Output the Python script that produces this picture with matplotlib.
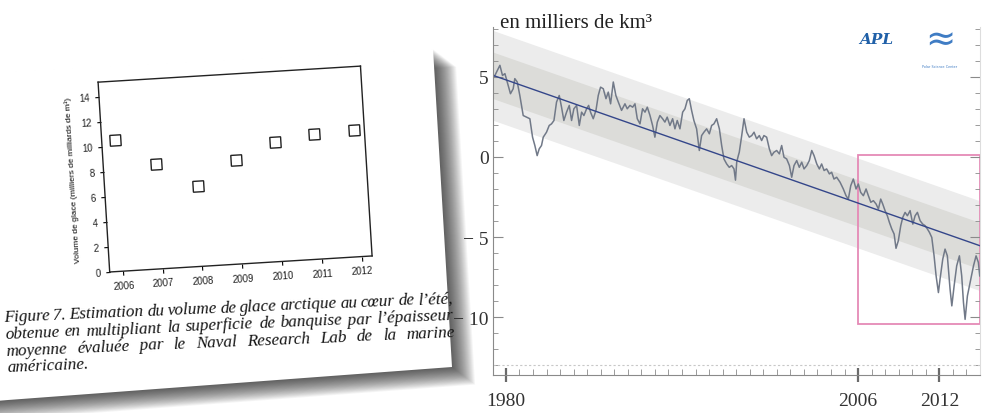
import matplotlib
matplotlib.use('Agg')
import matplotlib.pyplot as plt
import numpy as np
from matplotlib.patches import Polygon, Rectangle
from matplotlib.transforms import Affine2D
from matplotlib.ticker import FixedLocator, MultipleLocator, FuncFormatter
from mpl_toolkits.axisartist import floating_axes
from mpl_toolkits.axisartist.grid_finder import FixedLocator as GridLocator, DictFormatter

W, H = 983, 414

# --- scanned figure (NRL estimate) ---
nrl_years = [2006, 2007, 2008, 2009, 2010, 2011, 2012]
nrl_volume = [10.5, 8.35, 6.4, 8.3, 9.6, 10.0, 10.1]
nrl_yticks = [0, 2, 4, 6, 8, 10, 12, 14]

caption = ["Figure 7. Estimation du volume de glace arctique au cœur de l’été,",
           "obtenue en multipliant la superficie de banquise par l’épaisseur",
           "moyenne évaluée par le Naval Research Lab de la marine",
           "américaine."]

# --- PIOMAS anomaly (milliers de km3) ---
piomas_t = [1979.10, 1979.19, 1979.56, 1979.75, 1979.93, 1980.17, 1980.34, 1980.54, 1980.66, 1980.84,
            1981.03, 1981.28, 1981.53, 1981.77, 1981.97, 1982.14, 1982.31, 1982.46, 1982.63, 1982.76,
            1983.00, 1983.20, 1983.37, 1983.55, 1983.74, 1983.94, 1984.11, 1984.28, 1984.48, 1984.68,
            1984.85, 1985.02, 1985.22, 1985.42, 1985.59, 1985.76, 1985.96, 1986.11, 1986.25, 1986.45,
            1986.65, 1986.82, 1986.99, 1987.19, 1987.39, 1987.56, 1987.73, 1987.93, 1988.12, 1988.30,
            1988.54, 1988.79, 1988.96, 1989.16, 1989.36, 1989.53, 1989.70, 1989.90, 1990.09, 1990.27,
            1990.44, 1990.64, 1990.83, 1991.00, 1991.18, 1991.37, 1991.57, 1991.74, 1991.91, 1992.11,
            1992.31, 1992.48, 1992.65, 1992.85, 1993.05, 1993.22, 1993.39, 1993.54, 1993.71, 1993.88,
            1994.08, 1994.28, 1994.45, 1994.62, 1994.82, 1995.02, 1995.19, 1995.36, 1995.56, 1995.76,
            1995.93, 1996.10, 1996.30, 1996.49, 1996.67, 1996.84, 1996.95, 1997.04, 1997.16, 1997.23,
            1997.41, 1997.58, 1997.78, 1997.97, 1998.15, 1998.32, 1998.51, 1998.71, 1998.88, 1999.05,
            1999.25, 1999.45, 1999.62, 1999.79, 1999.99, 2000.19, 2000.36, 2000.53, 2000.73, 2000.93,
            2001.10, 2001.27, 2001.47, 2001.66, 2001.84, 2002.01, 2002.21, 2002.40, 2002.58, 2002.75,
            2002.95, 2003.14, 2003.31, 2003.49, 2003.68, 2003.88, 2004.05, 2004.22, 2004.42, 2004.67,
            2004.91, 2005.11, 2005.28, 2005.46, 2005.65, 2005.85, 2006.02, 2006.19, 2006.39, 2006.59,
            2006.76, 2006.94, 2007.13, 2007.33, 2007.50, 2007.67, 2007.82, 2007.99, 2008.16, 2008.31,
            2008.49, 2008.66, 2008.80, 2008.97, 2009.15, 2009.30, 2009.47, 2009.64, 2009.84, 2010.04,
            2010.21, 2010.38, 2010.58, 2010.77, 2010.95, 2011.12, 2011.27, 2011.44, 2011.61, 2011.76,
            2011.93, 2012.05, 2012.25, 2012.42, 2012.59, 2012.79, 2012.92, 2013.09, 2013.28, 2013.48,
            2013.65, 2013.78, 2013.90, 2014.07, 2014.27, 2014.52, 2014.71, 2014.88, 2014.98]
piomas_anom = [5.00, 5.08, 5.71, 5.08, 5.19, 4.46, 3.94, 4.25, 4.88, 4.67,
               3.83, 2.58, 2.48, 2.38, 1.23, 0.71, 0.08, 0.50, 0.71, 1.23,
               1.54, 1.96, 2.06, 2.27, 3.42, 3.83, 3.10, 2.27, 2.79, 3.21,
               2.27, 3.00, 3.21, 1.96, 2.79, 2.58, 3.00, 3.21, 2.79, 2.38,
               2.90, 3.83, 4.35, 4.25, 3.63, 4.04, 3.31, 4.67, 3.83, 3.42,
               2.90, 3.31, 3.00, 3.21, 3.10, 3.31, 2.38, 2.06, 3.00, 2.79,
               3.10, 2.58, 1.96, 1.23, 2.17, 2.58, 2.38, 2.17, 2.48, 1.96,
               2.38, 1.75, 2.27, 1.75, 2.79, 3.00, 3.52, 3.63, 2.90, 2.27,
               1.75, 0.40, 1.33, 1.54, 1.75, 1.44, 1.96, 2.06, 2.38, 1.75,
               0.71, -0.13, -0.44, -0.65, -0.54, -0.75, -1.45, -0.33, 0.08, 0.29,
               1.33, 2.38, 1.54, 1.23, 1.33, 1.54, 1.13, 1.33, 1.02, 1.33,
               1.23, 0.50, 0.08, 0.29, 0.40, 0.19, 0.71, -0.02, -0.13, -0.54,
               -1.27, -0.54, -0.23, -0.65, -0.33, -0.75, -0.54, -0.23, 0.40, 0.08,
               -0.44, -0.75, -0.44, -0.85, -0.75, -1.06, -0.96, -1.38, -1.27, -1.58,
               -2.00, -2.42, -2.63, -1.79, -1.38, -2.00, -1.69, -2.21, -2.42, -2.00,
               -2.42, -2.83, -2.73, -2.94, -3.25, -2.63, -2.94, -3.35, -3.67, -4.08,
               -4.50, -4.81, -5.70, -5.23, -4.29, -3.77, -3.46, -3.67, -3.35, -4.19,
               -3.67, -3.46, -3.98, -4.19, -4.29, -4.50, -4.71, -5.02, -6.17, -7.42,
               -8.46, -7.63, -6.38, -5.75, -6.17, -8.25, -9.29, -8.04, -6.79, -6.17,
               -7.42, -9.08, -10.13, -8.67, -7.83, -6.79, -6.17, -6.58, -7.42]
trend_t = [1979.0, 2015.0]
trend_v = [5.1, -5.54]
sd1, sd2 = 1.45, 2.8
box_t = [2006.0, 2015.0]
box_v = [-10.4, 0.1]

fig = plt.figure(figsize=(W / 100, H / 100), dpi=100)

# background in pixel coordinates (paper sheet + its shadow)
bg = fig.add_axes([0, 0, 1, 1], zorder=0)
bg.set_xlim(0, W)
bg.set_ylim(H, 0)
bg.axis('off')

paper = [(-40, 75), (433, 50), (452, 368), (8, 401), (-40, 405)]
for k in range(22, 0, -1):
    bg.add_patch(Polygon([(x + k * 1.05, y + k * 0.8) for x, y in paper],
                         closed=True, fc='black', ec='none', alpha=0.04))
bg.add_patch(Polygon(paper, closed=True, fc='white', ec='none'))

# caption, justified on a slightly tilted baseline
renderer = fig.canvas.get_renderer()
cap_kw = dict(fontsize=12.3, family='Liberation Serif', style='italic', color='#151515')
ang = 2.4
ca, sa = np.cos(np.radians(ang)), np.sin(np.radians(ang))
base_y = [322, 339, 356, 372]
for i, line in enumerate(caption):
    x0, y0 = 4 + i, base_y[i]
    words = line.split()
    if i == len(caption) - 1:
        bg.text(x0, y0, line, rotation=ang, rotation_mode='anchor', ha='left', va='baseline', **cap_kw)
        continue
    widths = []
    for w in words:
        t = bg.text(0, 0, w, **cap_kw)
        widths.append(t.get_window_extent(renderer).width)
        t.remove()
    gap = (449 - sum(widths)) / (len(words) - 1)
    pos = 0.0
    for w, wd in zip(words, widths):
        bg.text(x0 + pos * ca, y0 - pos * sa, w, rotation=ang, rotation_mode='anchor',
                ha='left', va='baseline', **cap_kw)
        pos += wd + gap

# logos (approximation)
bg.text(876, 40, 'APL', fontsize=11, fontweight='bold', style='italic', family='DejaVu Serif',
        color='#2060a8', ha='center', va='center')
bg.text(940, 41, '≈', fontsize=26, color='#3f7cc4', ha='center', va='center')
bg.text(940, 67, 'Polar Science Center', fontsize=2.4, color='#3f7cc4', ha='center', va='center')

# header of the right chart
bg.text(500, 28, 'en milliers de km³', fontsize=15, family='Liberation Serif',
        color='#222222', ha='left', va='baseline')

# --- right chart ---
ax = fig.add_axes([493 / W, 1 - 376 / H, (980 - 493) / W, (376 - 28) / H], zorder=1)
ax.patch.set_alpha(0)
tt = np.array(trend_t)
tv = np.array(trend_v)
ax.fill_between(tt, tv - sd2, tv + sd2, color='#ececec', lw=0)
ax.fill_between(tt, tv - sd1, tv + sd1, color='#dcdcd9', lw=0)
ax.axhline(-13, color='#c8c8c8', lw=0.8, ls=(0, (2, 2)))
ax.plot(piomas_t, piomas_anom, color='#717988', lw=1.1)
ax.plot(trend_t, trend_v, color='#34468a', lw=1.0)
ax.add_patch(Rectangle((box_t[0], box_v[0]), box_t[1] - box_t[0], box_v[1] - box_v[0],
                       fill=False, ec='#e58ab6', lw=1.3))
ax.set_xlim(1979.05, 2015.0)
ax.set_ylim(-13.6, 8.1)

ax.spines['top'].set_visible(False)
ax.spines['right'].set_color('#dddddd')
for s in ['left', 'bottom']:
    ax.spines[s].set_color('#8a8a8a')
ax.yaxis.set_major_locator(FixedLocator([-10, -5, 0, 5]))
ax.yaxis.set_minor_locator(MultipleLocator(1))
ax.yaxis.set_major_formatter(FuncFormatter(lambda v, p: f"{v:.0f}".replace('-', '− ')))
ax.xaxis.set_major_locator(FixedLocator([1980, 2006, 2012]))
ax.xaxis.set_minor_locator(MultipleLocator(1))
ax.tick_params(axis='y', which='major', direction='in', length=7, right=True,
               labelsize=14, labelcolor='#333333', color='#8a8a8a', pad=3)
ax.tick_params(axis='y', which='minor', direction='in', length=3.5, right=True, color='#8a8a8a')
ax.tick_params(axis='x', which='major', direction='inout', length=10, width=1.6,
               labelsize=14, labelcolor='#333333', color='#6a6a6a', pad=7)
ax.tick_params(axis='x', which='minor', direction='in', length=4, color='#8a8a8a')
for lab in ax.get_xticklabels() + ax.get_yticklabels():
    lab.set_family('Liberation Serif')

# --- left chart: tilted scan ---
tr = Affine2D().scale(39.85, 12.5).rotate_deg(3.5)
gh = floating_axes.GridHelperCurveLinear(
    tr, extremes=(2005.67, 2012.26, 0, 15.2),
    grid_locator1=GridLocator(nrl_years), grid_locator2=GridLocator(nrl_yticks),
    tick_formatter1=DictFormatter({y: str(y) for y in nrl_years}),
    tick_formatter2=DictFormatter({v: str(v) for v in nrl_yticks}))
ax1 = fig.add_axes([0.097, 0.335, 0.2843, 0.5085], axes_class=floating_axes.FloatingAxes,
                   grid_helper=gh, zorder=3)
ax1.patch.set_facecolor('white')
aux = ax1.get_aux_axes(tr)
aux.plot(nrl_years, nrl_volume, ls='none', marker=(4, 0, 48.5), ms=11,
         mfc='none', mec='#222222', mew=1.0)

for side in ['top', 'right']:
    ax1.axis[side].toggle(ticks=False, ticklabels=False, label=False)
for side in ['left', 'bottom']:
    ax1.axis[side].major_ticks.set_tick_out(True)
    ax1.axis[side].major_ticks.set_ticksize(3)
    ax1.axis[side].major_ticklabels.set_fontsize(7)
    ax1.axis[side].major_ticklabels.set_fontfamily('Liberation Sans')
    ax1.axis[side].major_ticklabels.set_color('#222222')
for side in ['left', 'bottom', 'top', 'right']:
    ax1.axis[side].line.set_linewidth(1.0)
    ax1.axis[side].line.set_color('#222222')
ax1.axis['left'].label.set_text('Volume de glace (milliers de milliards de m³)')
ax1.axis['left'].label.set_fontsize(6)
ax1.axis['left'].label.set_fontfamily('Liberation Sans')
ax1.axis['left'].toggle(label=True)

fig.savefig('out.png', dpi=100)
